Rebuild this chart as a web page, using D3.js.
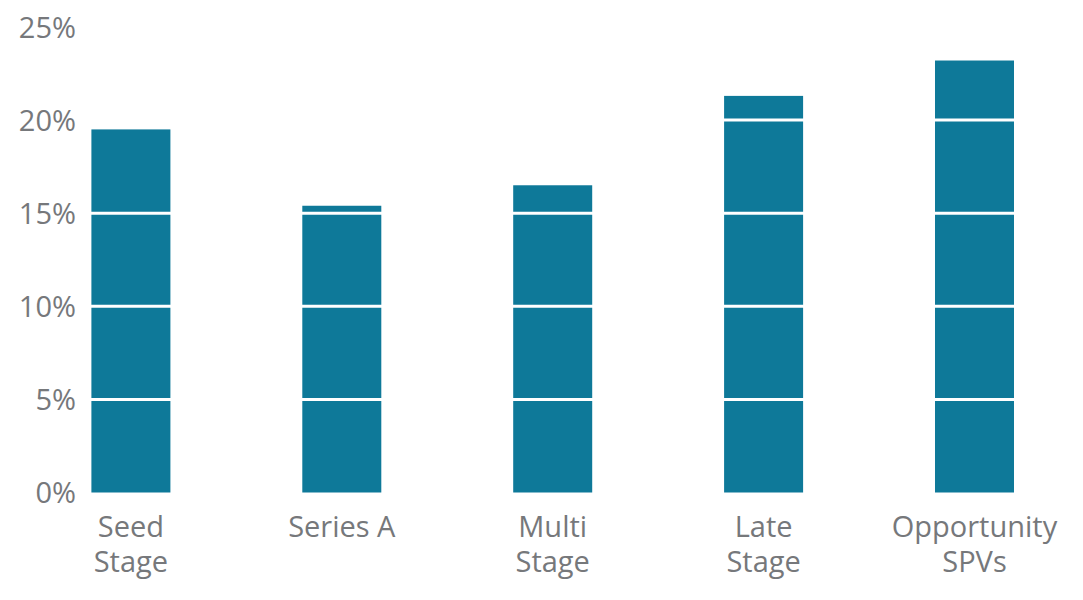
<!DOCTYPE html>
<html><head><meta charset="utf-8">
<script src="https://cdn.jsdelivr.net/npm/d3@7"></script>
<style>body{margin:0;background:#fff}svg{display:block}</style>
</head><body>
<svg id="c" width="1083" height="600"></svg>
<script>
const categories = [["Seed","Stage"],["Series A"],["Multi","Stage"],["Late","Stage"],["Opportunity","SPVs"]];
const values = [19.5, 15.4, 16.5, 21.3, 23.2];
const yTicks = [0, 5, 10, 15, 20, 25];
const gridTicks = [5, 10, 15, 20];

const svg = d3.select("#c");
const font = "'Open Sans', sans-serif";
const grey = "#76787b";
const barColor = "#0e7999";

const x = d3.scaleBand().domain(d3.range(categories.length)).range([91.4, 1014]).paddingInner(0.6254).paddingOuter(0);
const y = d3.scaleLinear().domain([0, 25]).range([492.5, 27]);

svg.append("g").selectAll("rect").data(values).join("rect")
  .attr("x", (d,i) => x(i)).attr("width", x.bandwidth())
  .attr("y", d => y(d)).attr("height", d => y(0) - y(d))
  .attr("fill", barColor);

svg.append("g").selectAll("line").data(gridTicks).join("line")
  .attr("x1", 80).attr("x2", 1083)
  .attr("y1", d => y(d)).attr("y2", d => y(d))
  .attr("stroke", "#fff").attr("stroke-width", 3);

const yAxis = svg.append("g").attr("transform", "translate(76,0)")
  .call(d3.axisLeft(y).tickValues(yTicks).tickFormat(d => d + "%").tickSize(0).tickPadding(0));
yAxis.select(".domain").remove();
yAxis.selectAll("text").attr("fill", grey).style("font-family", font).style("font-size", "29px").attr("dy", "0.36em");

const xl = svg.append("g").selectAll("text").data(categories).join("text")
  .attr("x", (d,i) => x(i) + x.bandwidth()/2)
  .attr("y", 537)
  .attr("text-anchor", "middle")
  .attr("fill", grey)
  .style("font-family", font).style("font-size", "29px");
xl.selectAll("tspan").data(d => d).join("tspan")
  .attr("x", function(){ return d3.select(this.parentNode).attr("x"); })
  .attr("dy", (d,i) => i === 0 ? 0 : 35)
  .text(d => d);
</script>
</body></html>
